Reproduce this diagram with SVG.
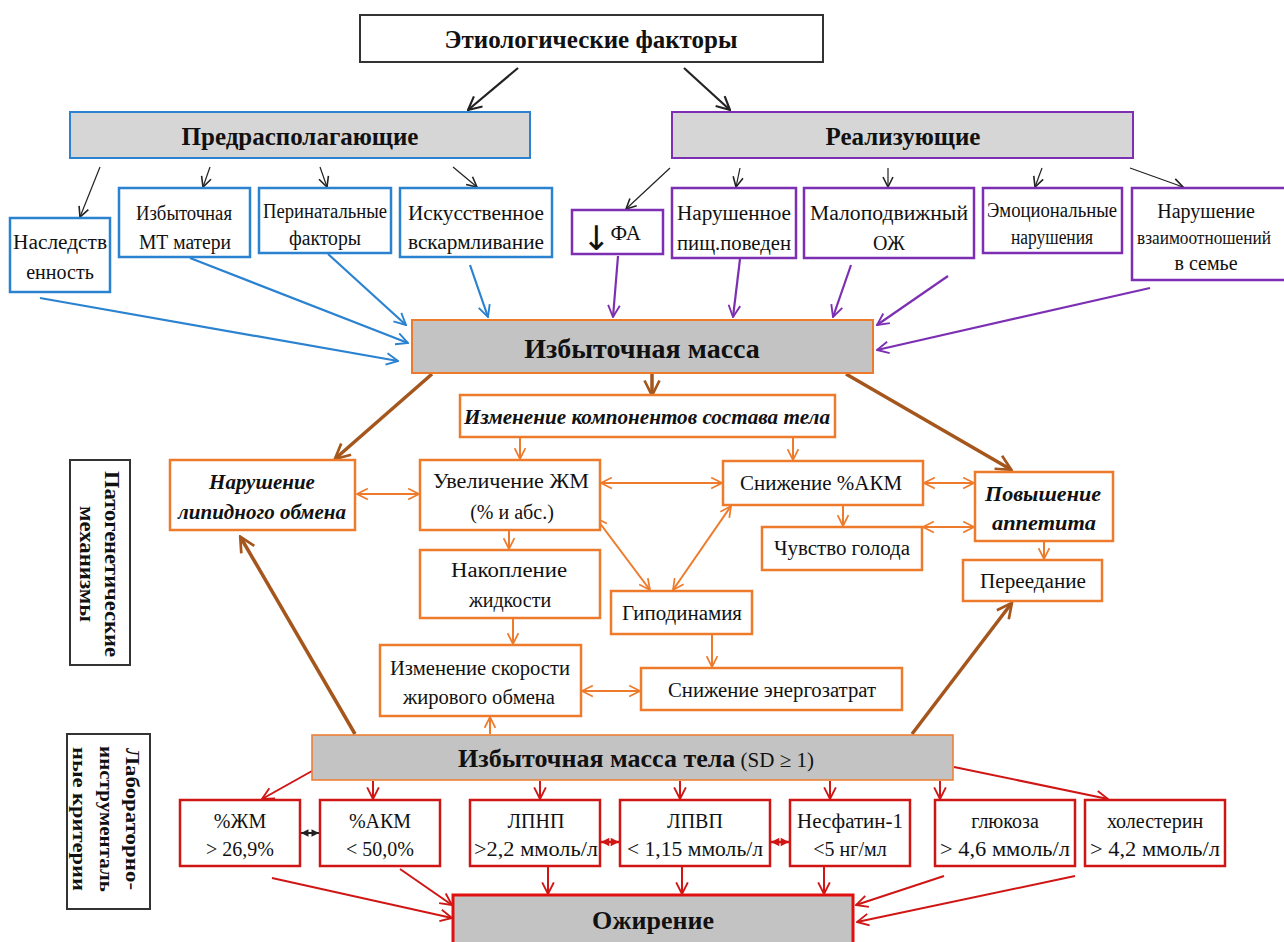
<svg xmlns="http://www.w3.org/2000/svg" width="1284" height="942" viewBox="0 0 1284 942">
<style>
text{font-family:"Liberation Serif","Times New Roman",serif;fill:#111;text-anchor:middle}
.n{font-size:20px}
.b{font-weight:bold}
.bi{font-weight:bold;font-style:italic;font-size:21px}
.box{fill:#fff}
.gray{fill:#c3c3c3}
.lgray{fill:#d6d6d6}
.k{stroke:#222}
.bl{stroke:#2a82d0}
.pu{stroke:#7c2fb2}
.or{stroke:#ee7b2c}
.rd{stroke:#d01515}
.br{stroke:#a4561c}
.c line{fill:none}
</style>
<defs>
<marker id="mk" viewBox="0 0 12 12" refX="11" refY="6" markerWidth="12" markerHeight="12" markerUnits="userSpaceOnUse" orient="auto-start-reverse"><path d="M1,1 L11,6 L1,11" fill="none" stroke="#222" stroke-width="1.6"/></marker>
<marker id="mkb" viewBox="0 0 12 12" refX="11" refY="6" markerWidth="16" markerHeight="16" markerUnits="userSpaceOnUse" orient="auto-start-reverse"><path d="M1,1 L11,6 L1,11" fill="none" stroke="#222" stroke-width="1.6"/></marker>
<marker id="mbl" viewBox="0 0 12 12" refX="11" refY="6" markerWidth="14" markerHeight="14" markerUnits="userSpaceOnUse" orient="auto-start-reverse"><path d="M1,1 L11,6 L1,11" fill="none" stroke="#2a82d0" stroke-width="1.6"/></marker>
<marker id="mpu" viewBox="0 0 12 12" refX="11" refY="6" markerWidth="14" markerHeight="14" markerUnits="userSpaceOnUse" orient="auto-start-reverse"><path d="M1,1 L11,6 L1,11" fill="none" stroke="#7c2fb2" stroke-width="1.6"/></marker>
<marker id="mor" viewBox="0 0 12 12" refX="11" refY="6" markerWidth="13" markerHeight="13" markerUnits="userSpaceOnUse" orient="auto-start-reverse"><path d="M1,1 L11,6 L1,11" fill="none" stroke="#ee7b2c" stroke-width="1.6"/></marker>
<marker id="mrd" viewBox="0 0 12 12" refX="11" refY="6" markerWidth="14" markerHeight="14" markerUnits="userSpaceOnUse" orient="auto-start-reverse"><path d="M1,1 L11,6 L1,11" fill="none" stroke="#d01515" stroke-width="1.6"/></marker>
<marker id="mrdf" viewBox="0 0 12 12" refX="11" refY="6" markerWidth="10" markerHeight="10" markerUnits="userSpaceOnUse" orient="auto-start-reverse"><path d="M1,1 L11,6 L1,11 Z" fill="#d01515"/></marker>
<marker id="mkf" viewBox="0 0 12 12" refX="11" refY="6" markerWidth="9" markerHeight="9" markerUnits="userSpaceOnUse" orient="auto-start-reverse"><path d="M1,1 L11,6 L1,11 Z" fill="#222"/></marker>
<marker id="mbr" viewBox="0 0 12 12" refX="10" refY="6" markerWidth="18" markerHeight="18" markerUnits="userSpaceOnUse" orient="auto-start-reverse"><path d="M1,1 L11,6 L1,11" fill="none" stroke="#a4561c" stroke-width="1.8"/></marker>
</defs>
<rect width="1284" height="942" fill="#fff"/>

<g id="connectors" class="c">
<line class="k" x1="518" y1="68" x2="468" y2="110" stroke-width="2.2" marker-end="url(#mkb)"/>
<line class="k" x1="684" y1="68" x2="730" y2="110" stroke-width="2.2" marker-end="url(#mkb)"/>
<line class="k" x1="100" y1="167" x2="80" y2="217" stroke-width="1.2" marker-end="url(#mk)"/>
<line class="k" x1="210" y1="167" x2="203" y2="187" stroke-width="1.2" marker-end="url(#mk)"/>
<line class="k" x1="320" y1="167" x2="327" y2="187" stroke-width="1.2" marker-end="url(#mk)"/>
<line class="k" x1="453" y1="167" x2="477" y2="187" stroke-width="1.2" marker-end="url(#mk)"/>
<line class="k" x1="670" y1="168" x2="626" y2="209" stroke-width="1.2" marker-end="url(#mk)"/>
<line class="k" x1="740" y1="168" x2="736" y2="187" stroke-width="1.2" marker-end="url(#mk)"/>
<line class="k" x1="888" y1="168" x2="888" y2="187" stroke-width="1.2" marker-end="url(#mk)"/>
<line class="k" x1="1042" y1="168" x2="1035" y2="187" stroke-width="1.2" marker-end="url(#mk)"/>
<line class="k" x1="1130" y1="168" x2="1183" y2="187" stroke-width="1.2" marker-end="url(#mk)"/>

<line class="bl" x1="40" y1="298" x2="398" y2="361" stroke-width="2.2" marker-end="url(#mbl)"/>
<line class="bl" x1="190" y1="258" x2="408" y2="343" stroke-width="2.2" marker-end="url(#mbl)"/>
<line class="bl" x1="328" y1="254" x2="406" y2="325" stroke-width="2.2" marker-end="url(#mbl)"/>
<line class="bl" x1="470" y1="265" x2="488" y2="317" stroke-width="2.2" marker-end="url(#mbl)"/>

<line class="pu" x1="618" y1="256" x2="613" y2="317" stroke-width="2.2" marker-end="url(#mpu)"/>
<line class="pu" x1="740" y1="259" x2="733" y2="317" stroke-width="2.2" marker-end="url(#mpu)"/>
<line class="pu" x1="851" y1="265" x2="833" y2="317" stroke-width="2.2" marker-end="url(#mpu)"/>
<line class="pu" x1="948" y1="276" x2="877" y2="325" stroke-width="2.2" marker-end="url(#mpu)"/>
<line class="pu" x1="1150" y1="288" x2="877" y2="350" stroke-width="2.2" marker-end="url(#mpu)"/>

<line class="br" x1="432" y1="374" x2="336" y2="458" stroke-width="3.5" marker-end="url(#mbr)"/>
<line class="br" x1="652" y1="374" x2="652" y2="394" stroke-width="3.5" marker-end="url(#mbr)"/>
<line class="br" x1="846" y1="374" x2="1010" y2="469" stroke-width="3.5" marker-end="url(#mbr)"/>
<line class="br" x1="355" y1="734" x2="241" y2="538" stroke-width="3.5" marker-end="url(#mbr)"/>
<line class="br" x1="912" y1="734" x2="1011" y2="604" stroke-width="3.5" marker-end="url(#mbr)"/>

<line class="or" x1="520" y1="437" x2="520" y2="459" stroke-width="2" marker-end="url(#mor)"/>
<line class="or" x1="793" y1="437" x2="793" y2="460" stroke-width="2" marker-end="url(#mor)"/>
<line class="or" x1="357" y1="494" x2="419" y2="494" stroke-width="2" marker-start="url(#mor)" marker-end="url(#mor)"/>
<line class="or" x1="601" y1="483" x2="722" y2="483" stroke-width="2" marker-start="url(#mor)" marker-end="url(#mor)"/>
<line class="or" x1="924" y1="483" x2="974" y2="483" stroke-width="2" marker-start="url(#mor)" marker-end="url(#mor)"/>
<line class="or" x1="923" y1="527" x2="974" y2="527" stroke-width="2" marker-start="url(#mor)" marker-end="url(#mor)"/>
<line class="or" x1="843" y1="506" x2="843" y2="526" stroke-width="2" marker-end="url(#mor)"/>
<line class="or" x1="1044" y1="542" x2="1044" y2="559" stroke-width="2" marker-end="url(#mor)"/>
<line class="or" x1="509" y1="531" x2="509" y2="549" stroke-width="2" marker-end="url(#mor)"/>
<line class="or" x1="596" y1="518" x2="650" y2="590" stroke-width="2" marker-start="url(#mor)" marker-end="url(#mor)"/>
<line class="or" x1="731" y1="506" x2="673" y2="590" stroke-width="2" marker-start="url(#mor)" marker-end="url(#mor)"/>
<line class="or" x1="712" y1="635" x2="712" y2="667" stroke-width="2" marker-end="url(#mor)"/>
<line class="or" x1="513" y1="619" x2="513" y2="644" stroke-width="2" marker-end="url(#mor)"/>
<line class="or" x1="582" y1="691" x2="640" y2="691" stroke-width="2" marker-start="url(#mor)" marker-end="url(#mor)"/>
<line class="or" x1="490" y1="734" x2="490" y2="717" stroke-width="2" marker-end="url(#mor)"/>

<line class="rd" x1="312" y1="771" x2="262" y2="799" stroke-width="2" marker-end="url(#mrd)"/>
<line class="rd" x1="373" y1="781" x2="373" y2="799" stroke-width="2" marker-end="url(#mrd)"/>
<line class="rd" x1="540" y1="781" x2="540" y2="799" stroke-width="2" marker-end="url(#mrd)"/>
<line class="rd" x1="680" y1="781" x2="680" y2="799" stroke-width="2" marker-end="url(#mrd)"/>
<line class="rd" x1="830" y1="781" x2="830" y2="799" stroke-width="2" marker-end="url(#mrd)"/>
<line class="rd" x1="940" y1="781" x2="940" y2="799" stroke-width="2" marker-end="url(#mrd)"/>
<line class="rd" x1="954" y1="767" x2="1108" y2="799" stroke-width="2" marker-end="url(#mrd)"/>
<line class="k" x1="301" y1="833" x2="319" y2="833" stroke-width="2" marker-start="url(#mkf)" marker-end="url(#mkf)"/>
<line class="rd" x1="601" y1="842" x2="619" y2="842" stroke-width="2.5" marker-start="url(#mrdf)" marker-end="url(#mrdf)"/>
<line class="rd" x1="771" y1="842" x2="789" y2="842" stroke-width="2.5" marker-start="url(#mrdf)" marker-end="url(#mrdf)"/>
<line class="rd" x1="272" y1="878" x2="452" y2="918" stroke-width="2" marker-end="url(#mrd)"/>
<line class="rd" x1="400" y1="869" x2="452" y2="905" stroke-width="2" marker-end="url(#mrd)"/>
<line class="rd" x1="548" y1="867" x2="548" y2="894" stroke-width="2" marker-end="url(#mrd)"/>
<line class="rd" x1="682" y1="867" x2="682" y2="894" stroke-width="2" marker-end="url(#mrd)"/>
<line class="rd" x1="824" y1="867" x2="824" y2="894" stroke-width="2" marker-end="url(#mrd)"/>
<line class="rd" x1="944" y1="876" x2="856" y2="905" stroke-width="2" marker-end="url(#mrd)"/>
<line class="rd" x1="1075" y1="876" x2="857" y2="922" stroke-width="2" marker-end="url(#mrd)"/>
</g>

<g id="n-title"><rect class="box" x="360" y="15" width="463" height="47" stroke="#333" stroke-width="2"/><text class="b" x="591" y="48" font-size="25">Этиологические факторы</text></g>
<g id="n-predisp"><rect class="lgray" x="70" y="112" width="460" height="46" stroke="#2a82d0" stroke-width="2"/><text class="b" x="300" y="145" font-size="25">Предрасполагающие</text></g>
<g id="n-realiz"><rect class="lgray" x="672" y="112" width="461" height="46" stroke="#7c2fb2" stroke-width="2"/><text class="b" x="903" y="145" font-size="25">Реализующие</text></g>

<g id="n-hered"><rect class="box" x="10" y="218" width="100" height="74" stroke="#2a82d0" stroke-width="2.5"/><text class="n" x="60" y="249" textLength="94" lengthAdjust="spacingAndGlyphs">Наследств</text><text class="n" x="60" y="279">енность</text></g>
<g id="n-mt"><rect class="box" x="119" y="188" width="131" height="69" stroke="#2a82d0" stroke-width="2.5"/><text class="n" x="184" y="220" textLength="96" lengthAdjust="spacingAndGlyphs">Избыточная</text><text class="n" x="185" y="249" textLength="92" lengthAdjust="spacingAndGlyphs">МТ матери</text></g>
<g id="n-perin"><rect class="box" x="259" y="188" width="132" height="65" stroke="#2a82d0" stroke-width="2.5"/><text class="n" x="325" y="218" textLength="124" lengthAdjust="spacingAndGlyphs">Перинатальные</text><text class="n" x="325" y="245" textLength="72" lengthAdjust="spacingAndGlyphs">факторы</text></g>
<g id="n-artif"><rect class="box" x="400" y="188" width="152" height="69" stroke="#2a82d0" stroke-width="2.5"/><text class="n" x="476" y="220" textLength="136" lengthAdjust="spacingAndGlyphs">Искусственное</text><text class="n" x="476" y="249" textLength="136" lengthAdjust="spacingAndGlyphs">вскармливание</text></g>

<g id="n-fa"><rect class="box" x="572" y="210" width="91" height="44" stroke="#7c2fb2" stroke-width="2.5"/><text x="582" y="240" style="text-anchor:start"><tspan font-family="DejaVu Sans, sans-serif" font-size="34" dy="10">↓</tspan><tspan font-size="21" dy="-10">ФА</tspan></text></g>
<g id="n-food"><rect class="box" x="672" y="188" width="124" height="70" stroke="#7c2fb2" stroke-width="2.5"/><text class="n" x="734" y="220" textLength="114" lengthAdjust="spacingAndGlyphs">Нарушенное</text><text class="n" x="734" y="250" textLength="114" lengthAdjust="spacingAndGlyphs">пищ.поведен</text></g>
<g id="n-sed"><rect class="box" x="804" y="188" width="170" height="70" stroke="#7c2fb2" stroke-width="2.5"/><text class="n" x="889" y="220" textLength="158" lengthAdjust="spacingAndGlyphs">Малоподвижный</text><text class="n" x="889" y="250">ОЖ</text></g>
<g id="n-emo"><rect class="box" x="983" y="188" width="139" height="65" stroke="#7c2fb2" stroke-width="2.5"/><text class="n" x="1052" y="217" textLength="130" lengthAdjust="spacingAndGlyphs">Эмоциональные</text><text class="n" x="1052" y="244" textLength="82" lengthAdjust="spacingAndGlyphs">нарушения</text></g>
<g id="n-family"><rect class="box" x="1132" y="188" width="160" height="92" stroke="#7c2fb2" stroke-width="2.5"/><text class="n" x="1206" y="218">Нарушение</text><text x="1204" y="244" font-size="18" textLength="134" lengthAdjust="spacingAndGlyphs">взаимоотношений</text><text class="n" x="1206" y="270">в семье</text></g>

<g id="n-excess"><rect class="gray" x="412" y="320" width="461" height="53" stroke="#ee7b2c" stroke-width="2"/><text class="b" x="642" y="358" font-size="28">Избыточная  масса</text></g>

<g id="n-comp"><rect class="box" x="460" y="395" width="375" height="42" stroke="#ee7b2c" stroke-width="2.5"/><text class="bi" x="647" y="424" textLength="366" lengthAdjust="spacingAndGlyphs">Изменение  компонентов состава тела</text></g>
<g id="n-lipid"><rect class="box" x="170" y="460" width="185" height="70" stroke="#ee7b2c" stroke-width="2.5"/><text class="bi" x="262" y="489">Нарушение</text><text class="bi" x="262" y="519">липидного обмена</text></g>
<g id="n-fm"><rect class="box" x="420" y="460" width="180" height="70" stroke="#ee7b2c" stroke-width="2.5"/><text class="n" x="511" y="488" textLength="156" lengthAdjust="spacingAndGlyphs">Увеличение ЖМ</text><text class="n" x="512" y="519">(% и абс.)</text></g>
<g id="n-akm"><rect class="box" x="723" y="461" width="200" height="44" stroke="#ee7b2c" stroke-width="2.5"/><text class="n" x="821" y="490" textLength="162" lengthAdjust="spacingAndGlyphs">Снижение %АКМ</text></g>
<g id="n-appetite"><rect class="box" x="975" y="472" width="138" height="69" stroke="#ee7b2c" stroke-width="2.5"/><text class="bi" x="1043" y="501" textLength="116" lengthAdjust="spacingAndGlyphs">Повышение</text><text class="bi" x="1044" y="530" textLength="104" lengthAdjust="spacingAndGlyphs">аппетита</text></g>
<g id="n-hunger"><rect class="box" x="762" y="527" width="160" height="43" stroke="#ee7b2c" stroke-width="2.5"/><text class="n" x="842" y="555" textLength="136" lengthAdjust="spacingAndGlyphs">Чувство голода</text></g>
<g id="n-overeat"><rect class="box" x="963" y="560" width="139" height="41" stroke="#ee7b2c" stroke-width="2.5"/><text class="n" x="1033" y="588" textLength="106" lengthAdjust="spacingAndGlyphs">Переедание</text></g>
<g id="n-fluid"><rect class="box" x="420" y="550" width="180" height="68" stroke="#ee7b2c" stroke-width="2.5"/><text class="n" x="509" y="577" textLength="116" lengthAdjust="spacingAndGlyphs">Накопление</text><text class="n" x="510" y="607">жидкости</text></g>
<g id="n-hypo"><rect class="box" x="611" y="591" width="141" height="43" stroke="#ee7b2c" stroke-width="2.5"/><text class="n" x="682" y="620" textLength="120" lengthAdjust="spacingAndGlyphs">Гиподинамия</text></g>
<g id="n-rate"><rect class="box" x="380" y="645" width="201" height="71" stroke="#ee7b2c" stroke-width="2.5"/><text class="n" x="480" y="675" textLength="180" lengthAdjust="spacingAndGlyphs">Изменение скорости</text><text class="n" x="479" y="704" textLength="152" lengthAdjust="spacingAndGlyphs">жирового обмена</text></g>
<g id="n-energy"><rect class="box" x="641" y="668" width="261" height="42" stroke="#ee7b2c" stroke-width="2.5"/><text class="n" x="772" y="697" textLength="208" lengthAdjust="spacingAndGlyphs">Снижение энергозатрат</text></g>

<g id="n-side1"><rect class="box" x="70" y="460" width="60" height="205" stroke="#333" stroke-width="2"/><g transform="translate(100,564) rotate(90)"><text class="b" x="0" y="-5" font-size="20" textLength="186" lengthAdjust="spacingAndGlyphs">Патогенетические</text><text class="b" x="0" y="20" font-size="20" textLength="116" lengthAdjust="spacingAndGlyphs">механизмы</text></g></g>
<g id="n-side2"><rect class="box" x="67" y="734" width="83" height="175" stroke="#333" stroke-width="2"/><g transform="translate(105,819) rotate(90)"><text class="b" x="0" y="-21" font-size="18" textLength="142" lengthAdjust="spacingAndGlyphs">Лабораторно-</text><text class="b" x="0" y="5" font-size="18" textLength="146" lengthAdjust="spacingAndGlyphs">инструменталь</text><text class="b" x="0" y="32" font-size="18" textLength="144" lengthAdjust="spacingAndGlyphs">ные критерии</text></g></g>

<g id="n-bmi"><rect class="gray" x="312" y="735" width="641" height="45" stroke="#ee7b2c" stroke-width="1.5"/><text x="636" y="767"><tspan class="b" font-size="26">Избыточная масса тела</tspan><tspan font-size="21"> (SD ≥ 1)</tspan></text></g>

<g id="n-fmp"><rect class="box" x="180" y="800" width="120" height="66" stroke="#d01515" stroke-width="2.5"/><text class="n" x="240" y="828">%ЖМ</text><text class="n" x="240" y="856">&gt; 26,9%</text></g>
<g id="n-akmp"><rect class="box" x="320" y="800" width="120" height="66" stroke="#d01515" stroke-width="2.5"/><text class="n" x="380" y="828">%АКМ</text><text class="n" x="380" y="856">&lt; 50,0%</text></g>
<g id="n-ldl"><rect class="box" x="470" y="800" width="130" height="66" stroke="#d01515" stroke-width="2.5"/><text class="n" x="536" y="828">ЛПНП</text><text class="n" x="536" y="856" textLength="124" lengthAdjust="spacingAndGlyphs">&gt;2,2 ммоль/л</text></g>
<g id="n-hdl"><rect class="box" x="620" y="800" width="150" height="66" stroke="#d01515" stroke-width="2.5"/><text class="n" x="695" y="828">ЛПВП</text><text class="n" x="695" y="856" textLength="136" lengthAdjust="spacingAndGlyphs">&lt; 1,15 ммоль/л</text></g>
<g id="n-nesf"><rect class="box" x="790" y="800" width="120" height="66" stroke="#d01515" stroke-width="2.5"/><text class="n" x="850" y="828" textLength="106" lengthAdjust="spacingAndGlyphs">Несфатин-1</text><text class="n" x="850" y="856">&lt;5 нг/мл</text></g>
<g id="n-gluc"><rect class="box" x="935" y="800" width="140" height="66" stroke="#d01515" stroke-width="2.5"/><text class="n" x="1005" y="828">глюкоза</text><text class="n" x="1005" y="856" textLength="130" lengthAdjust="spacingAndGlyphs">&gt; 4,6 ммоль/л</text></g>
<g id="n-chol"><rect class="box" x="1085" y="800" width="140" height="66" stroke="#d01515" stroke-width="2.5"/><text class="n" x="1155" y="828">холестерин</text><text class="n" x="1155" y="856" textLength="130" lengthAdjust="spacingAndGlyphs">&gt; 4,2 ммоль/л</text></g>

<g id="n-obesity"><rect class="gray" x="453" y="895" width="400" height="60" stroke="#e01010" stroke-width="3"/><text class="b" x="653" y="929" font-size="26">Ожирение</text></g>
</svg>
